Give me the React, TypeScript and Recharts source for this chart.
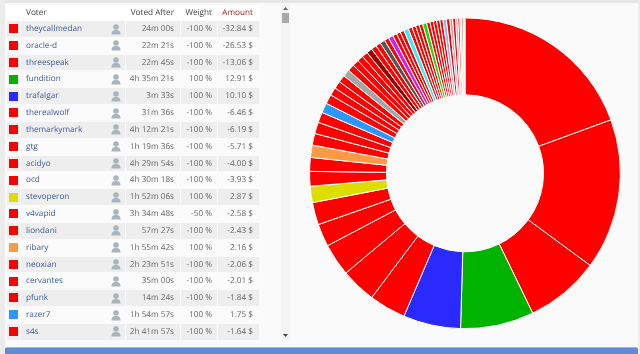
import React from "react";
import { PieChart, Pie } from "recharts";

const voters = ["theycallmedan","oracle-d","threespeak","fundition","trafalgar","therealwolf","themarkymark","gtg","acidyo","ocd","stevoperon","v4vapid","liondani","ribary","neoxian","cervantes","pfunk","razer7","s4s"];
const votedAfter = ["24m 00s","22m 21s","22m 45s","4h 35m 21s","3m 33s","31m 36s","4h 12m 21s","1h 19m 36s","4h 29m 54s","4h 30m 18s","1h 52m 06s","3h 34m 48s","57m 27s","1h 55m 42s","2h 23m 51s","35m 00s","14m 24s","1h 54m 57s","2h 41m 57s"];
const weights = ["-100 %","-100 %","-100 %","100 %","100 %","-100 %","-100 %","-100 %","-100 %","-100 %","100 %","-50 %","-100 %","100 %","-100 %","-100 %","-100 %","100 %","-100 %"];
const amounts = [-32.84,-26.53,-13.06,12.91,10.10,-6.46,-6.19,-5.71,-4.00,-3.93,2.87,-2.58,-2.43,2.16,-2.06,-2.01,-1.84,1.75,-1.64];
const R = "#ff0000";
const colors = [R,R,R,"#00b300","#2a2aff",R,R,R,R,R,"#dddd00",R,R,"#ff9944",R,R,R,"#2e96ff",R];

// Voters further down the scrolled list: only their slices are visible.
const restValues = [1.4,1.35,1.28,1.26,1.18,1.13,1.08,1.03,1.0,0.95,0.88,0.88,0.8,0.85,0.72,0.7,0.68,0.85,0.68,0.66,0.64,0.62,0.7,0.6,0.6,0.58,0.56,0.55,0.6,0.6,0.5,0.5,0.4,0.35,0.3,0.3,0.2,0.1];
const restColors = [R,R,R,"#a6a6a6",R,R,R,R,"#990000",R,R,"#555555",R,"#cc22ee",R,R,R,"#33eeff",R,R,R,R,"#11dd11",R,R,R,R,R,"#88bbee",R,"#bbaaaa",R,"#ddaabb",R,"#ddbbcc","#bb8866",R,"#eecc99"];

const slices = [
  ...amounts.map((a, i) => ({ name: voters[i], value: Math.abs(a), fill: colors[i] })),
  ...restValues.map((v, i) => ({ name: "rest" + i, value: v, fill: restColors[i] })),
];

const ROW_H = 16.83;
const font = "'Open Sans', sans-serif";
const cols = [
  { x: 7, w: 13 },
  { x: 21, w: 104 },
  { x: 126, w: 54 },
  { x: 181, w: 36 },
  { x: 218, w: 41 },
];

const Abs = ({ x, y, w, h, bg, children, style }: any) => (
  <div style={{ position: "absolute", left: x, top: y, width: w, height: h, background: bg, ...style }}>{children}</div>
);

const Person = ({ x, y }: { x: number; y: number }) => (
  <svg width={10} height={11} style={{ position: "absolute", left: x, top: y }}>
    <circle cx={5} cy={3} r={2.8} fill="#aab4bf" />
    <path d="M0.5 10.5 C0.5 6.5 3 6 5 6 C7 6 9.5 6.5 9.5 10.5 Z" fill="#aab4bf" />
  </svg>
);

const cellText = (color: string, weight = 400): React.CSSProperties => ({
  fontFamily: font,
  fontSize: 8.2,
  textRendering: "geometricPrecision",
  color,
  fontWeight: weight,
  whiteSpace: "nowrap",
  lineHeight: "16px",
});

export default function App() {
  return (
    <div style={{ position: "fixed", left: 0, top: 0, width: 640, height: 354, background: "#fafafa", overflow: "hidden" }}>
      <Abs x={0} y={0} w={640} h={3} bg="#e6e6e6" />
      <Abs x={0} y={0} w={5} h={354} bg="#ececec" />
      <Abs x={638} y={0} w={2} h={354} bg="#ececec" />

      <div style={{ position: "absolute", left: 0, top: 0, width: 300, height: 354, filter: "blur(0.35px)" }}>
        <Abs x={6} y={5} w={254} h={15.5} bg="#ffffff" />
        <Abs x={26} y={5} w={80} h={16} style={cellText("#444")}>Voter</Abs>
        <Abs x={120} y={5} w={54} h={16} style={{ ...cellText("#444"), textAlign: "right" }}>Voted After</Abs>
        <Abs x={172} y={5} w={40} h={16} style={{ ...cellText("#444"), textAlign: "right" }}>Weight</Abs>
        <Abs x={213} y={5} w={40} h={16} style={{ ...cellText("#a52020"), textAlign: "right" }}>Amount</Abs>

        {voters.map((v, i) => {
          const y = 21 + i * ROW_H;
          const bg = i % 2 === 0 ? "#eeeeee" : "#fbfbfb";
          const amt = amounts[i].toFixed(2) + " $";
          return (
            <React.Fragment key={v}>
              {cols.map((c, k) => (
                <Abs key={k} x={c.x} y={y} w={c.w} h={15.6} bg={bg} />
              ))}
              <Abs x={9} y={y + 3.2} w={9} h={9} bg={colors[i]} />
              <Abs x={26} y={y} w={90} h={16} style={cellText("#3f5a96")}>{v}</Abs>
              <Person x={110.5} y={y + 2.5} />
              <Abs x={120} y={y} w={54} h={16} style={{ ...cellText("#666"), textAlign: "right" }}>{votedAfter[i]}</Abs>
              <Abs x={172} y={y} w={40} h={16} style={{ ...cellText("#666"), textAlign: "right" }}>{weights[i]}</Abs>
              <Abs x={203} y={y} w={50} h={16} style={{ ...cellText("#666"), textAlign: "right" }}>{amt}</Abs>
            </React.Fragment>
          );
        })}

        <Abs x={281} y={4} w={9} h={336} bg="#f4f4f4" />
        <Abs x={282} y={13} w={7} h={10} bg="#a9a9a9" />
        <svg width={9} height={5} style={{ position: "absolute", left: 281, top: 6 }}><path d="M2 4 L4.5 1 L7 4 Z" fill="#666" /></svg>
        <svg width={9} height={5} style={{ position: "absolute", left: 281, top: 333 }}><path d="M2 1 L4.5 4 L7 1 Z" fill="#444" /></svg>
      </div>

      <div style={{ position: "absolute", left: 0, top: 0, filter: "blur(0.3px)" }}>
        <PieChart width={640} height={354} margin={{ top: 0, right: 0, bottom: 0, left: 0 }}>
          <Pie
            data={slices}
            dataKey="value"
            nameKey="name"
            cx={465}
            cy={173.3}
            innerRadius={78.5}
            outerRadius={155.4}
            startAngle={90}
            endAngle={-270}
            stroke="#ffffff"
            strokeWidth={1}
            isAnimationActive={false}
          />
        </PieChart>
      </div>

      <Abs x={5} y={347} w={633} h={7} bg="#5f8ad6" style={{ borderTop: "1px solid #9db8e6", boxSizing: "border-box", borderRadius: "2px 2px 0 0" }} />
    </div>
  );
}
